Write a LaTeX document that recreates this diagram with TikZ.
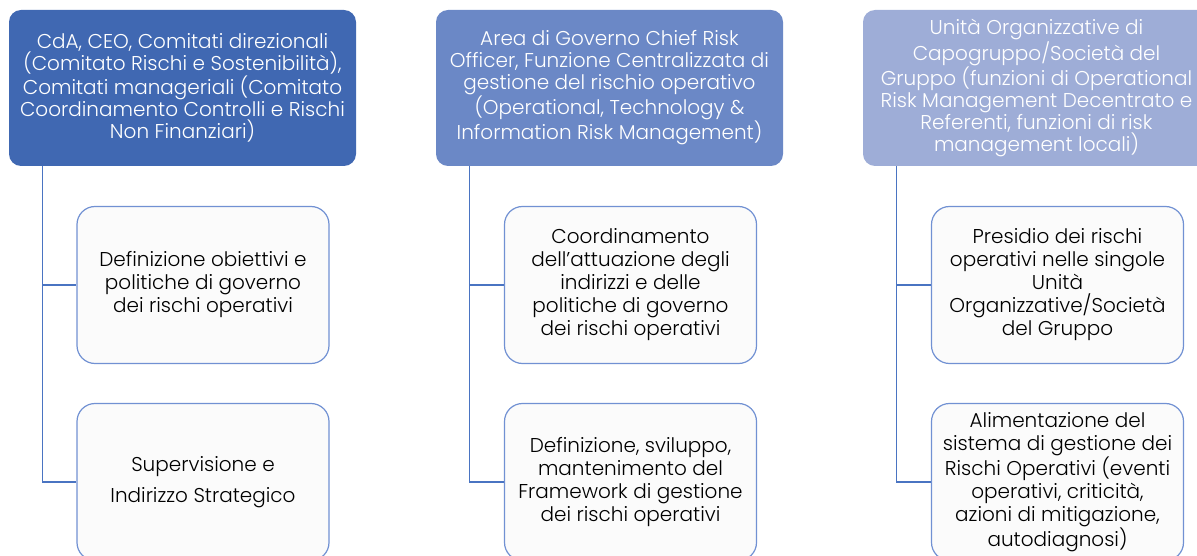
\documentclass[tikz,border=0pt]{standalone}
\usepackage{fontspec}
\setmainfont{Poppins}[UprightFont={* Light}]
\usepackage{tikz}
\usetikzlibrary{calc}

\definecolor{headA}{HTML}{4068B2}
\definecolor{headB}{HTML}{6B88C6}
\definecolor{headC}{HTML}{9EADD7}
\definecolor{linkblue}{HTML}{4A74C2}
\definecolor{boxline}{HTML}{7191D3}
\definecolor{boxfill}{HTML}{FBFBFB}

\tikzset{
    head/.style={rounded corners=12pt, minimum width=347pt, minimum height=156pt,
        text=white, align=center, inner sep=0pt,
        font=\fontsize{20}{22}\selectfont},
    task/.style={draw=boxline, line width=1.2pt, fill=boxfill, rounded corners=18pt,
        minimum width=252pt, minimum height=157pt, align=center, inner sep=0pt,
        font=\fontsize{20}{23}\selectfont},
    link/.style={draw=linkblue, line width=1.3pt}
}

\begin{document}
\begin{tikzpicture}[x=1pt,y=1pt]
    \useasboundingbox (0,0) rectangle (1197,555);

    % Heights of the two rows of boxes
    \def\hy{467}  % header row
    \def\ta{270}  % first task row
    \def\tb{73}   % second task row

    % Headers
    \node[head, fill=headA] (h1) at (182.5,\hy)
        {CdA, CEO, Comitati direzionali\\(Comitato Rischi e Sostenibilità),\\Comitati manageriali (Comitato\\Coordinamento Controlli e Rischi\\Non Finanziari)};
    \node[head, fill=headB] (h2) at (609.5,\hy)
        {Area di Governo Chief Risk\\Officer, Funzione Centralizzata di\\gestione del rischio operativo\\(Operational, Technology \&\\Information Risk Management)};
    \node[head, fill=headC] (h3) at (1036.5,\hy)
        {Unità Organizzative di\\Capogruppo/Società del\\Gruppo (funzioni di Operational\\Risk Management Decentrato e\\Referenti, funzioni di risk\\management locali)};

    % Tasks of each header
    \node[task] (t11) at (203,\ta) {Definizione obiettivi e\\politiche di governo\\dei rischi operativi};
    \node[task] (t12) at (203,\tb) {Supervisione e\\[8pt]Indirizzo Strategico};
    \node[task] (t21) at (630.5,\ta) {Coordinamento\\dell’attuazione degli\\indirizzi e delle\\politiche di governo\\dei rischi operativi};
    \node[task] (t22) at (630.5,\tb) {Definizione, sviluppo,\\mantenimento del\\Framework di gestione\\dei rischi operativi};
    \node[task] (t31) at (1057.5,\ta) {Presidio dei rischi\\operativi nelle singole\\Unità\\Organizzative/Società\\del Gruppo};
    \node[task] (t32) at (1057.5,\tb) {Alimentazione del\\sistema di gestione dei\\Rischi Operativi (eventi\\operativi, criticità,\\azioni di mitigazione,\\autodiagnosi)};

    % Connectors
    \foreach \h in {1,2,3} {
        \draw[link] ([xshift=34pt]h\h.south west) |- (t\h1.west);
        \draw[link] ([xshift=34pt]h\h.south west) |- (t\h2.west);
    }
\end{tikzpicture}
\end{document}
